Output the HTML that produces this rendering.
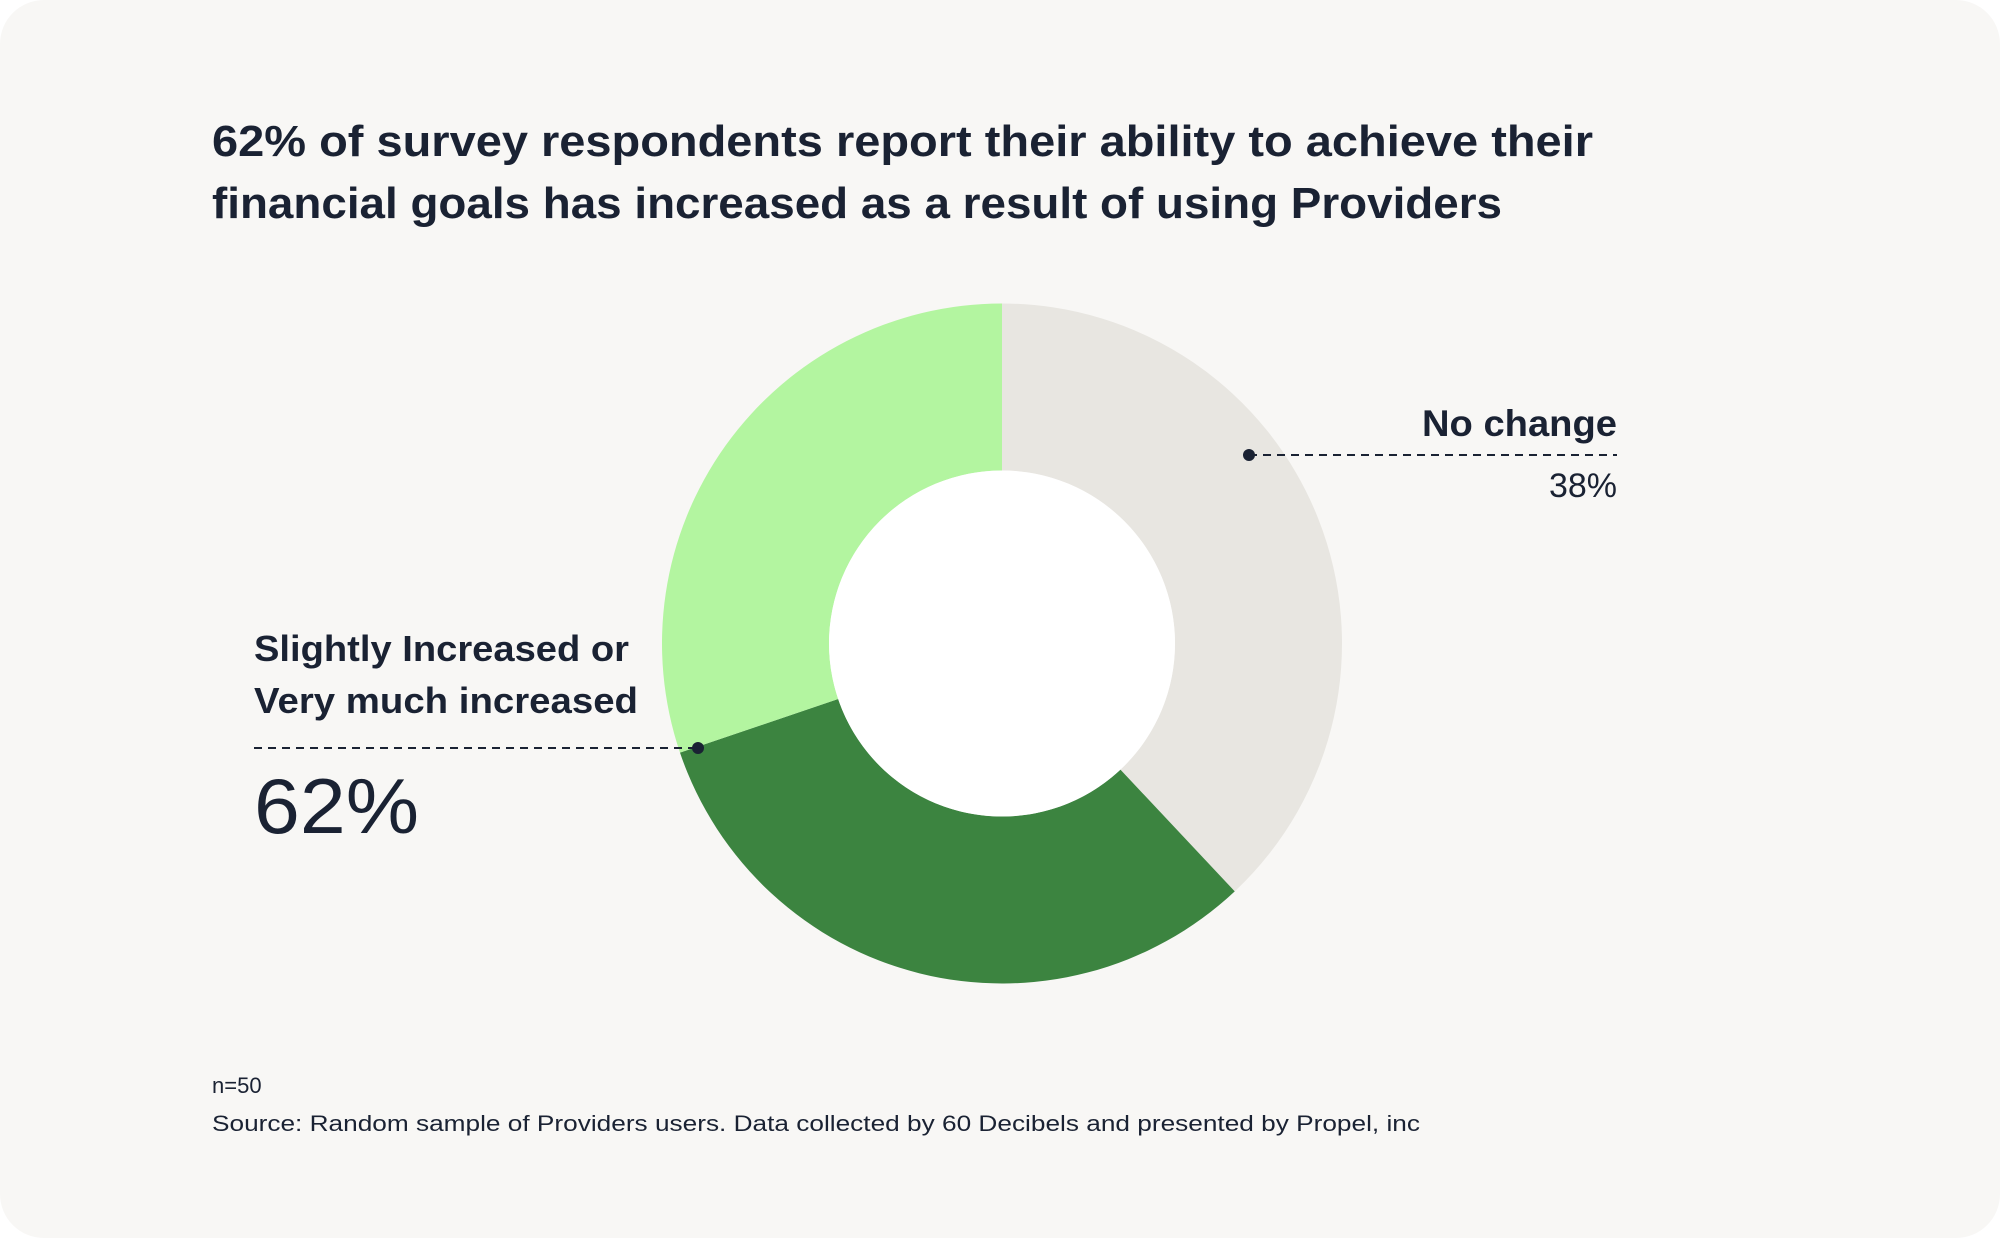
<!DOCTYPE html>
<html><head><meta charset="utf-8"><style>
html,body{margin:0;padding:0;background:#fff;}
svg{display:block;}
text{font-family:"Liberation Sans",sans-serif;fill:#1a2233;}
</style></head><body>
<svg id="chart" width="2000" height="1238" viewBox="0 0 2000 1238">
<rect x="0" y="0" width="2000" height="1238" rx="44" fill="#f8f7f5"/>
<text x="212" y="156" font-size="44" font-weight="bold" textLength="1381" lengthAdjust="spacingAndGlyphs">62% of survey respondents report their ability to achieve their</text>
<text x="212" y="218" font-size="44" font-weight="bold" textLength="1290" lengthAdjust="spacingAndGlyphs">financial goals has increased as a result of using Providers</text>
<g id="slices"></g>
<line x1="1249" y1="455" x2="1617" y2="455" stroke="#1a2233" stroke-width="2" stroke-dasharray="8,6"/>
<circle cx="1249" cy="455" r="6" fill="#1a2233"/>
<text x="1617" y="436" font-size="37" font-weight="bold" text-anchor="end" fill="#000" textLength="195" lengthAdjust="spacingAndGlyphs">No change</text>
<text x="1617" y="497" font-size="34" text-anchor="end">38%</text>
<line x1="254" y1="748" x2="698" y2="748" stroke="#1a2233" stroke-width="2" stroke-dasharray="8,6"/>
<circle cx="698" cy="748" r="6" fill="#1a2233"/>
<text x="254" y="661" font-size="36" font-weight="bold" textLength="375" lengthAdjust="spacingAndGlyphs">Slightly Increased or</text>
<text x="254" y="713" font-size="36" font-weight="bold" textLength="384" lengthAdjust="spacingAndGlyphs">Very much increased</text>
<text x="254" y="833" font-size="78" textLength="165" lengthAdjust="spacingAndGlyphs" fill="#000">62%</text>
<text x="212" y="1093" font-size="22">n=50</text>
<text x="212" y="1131" font-size="22" textLength="1208" lengthAdjust="spacingAndGlyphs">Source: Random sample of Providers users. Data collected by 60 Decibels and presented by Propel, inc</text>
</svg>
<script>
const categories = ["No change", "Very much increased", "Slightly increased"];
const values = [38, 31.8, 30.2];
const colors = ["#e8e6e1", "#3c8440", "#b3f5a0"];
const cx = 1002, cy = 643.5, R = 340, r = 173;
const total = values.reduce((a, b) => a + b, 0);
function angle(v) { return v / total * 2 * Math.PI; }
function pt(a, rad) { return [cx + rad * Math.sin(a), cy - rad * Math.cos(a)]; }
const g = document.getElementById('slices');
let acc = 0;
values.forEach((v, i) => {
  const a0 = angle(acc), a1 = angle(acc + v);
  acc += v;
  const large = (a1 - a0) > Math.PI ? 1 : 0;
  const p0 = pt(a0, R), p1 = pt(a1, R), q1 = pt(a1, r), q0 = pt(a0, r);
  const d = `M${p0[0]},${p0[1]} A${R},${R} 0 ${large} 1 ${p1[0]},${p1[1]} L${q1[0]},${q1[1]} A${r},${r} 0 ${large} 0 ${q0[0]},${q0[1]} Z`;
  const path = document.createElementNS('http://www.w3.org/2000/svg', 'path');
  path.setAttribute('d', d);
  path.setAttribute('fill', colors[i]);
  
  
  g.appendChild(path);
});
const hole = document.createElementNS('http://www.w3.org/2000/svg', 'circle');
hole.setAttribute('cx', cx); hole.setAttribute('cy', cy); hole.setAttribute('r', r);
hole.setAttribute('fill', '#ffffff');


g.appendChild(hole);
</script>
</body></html>
